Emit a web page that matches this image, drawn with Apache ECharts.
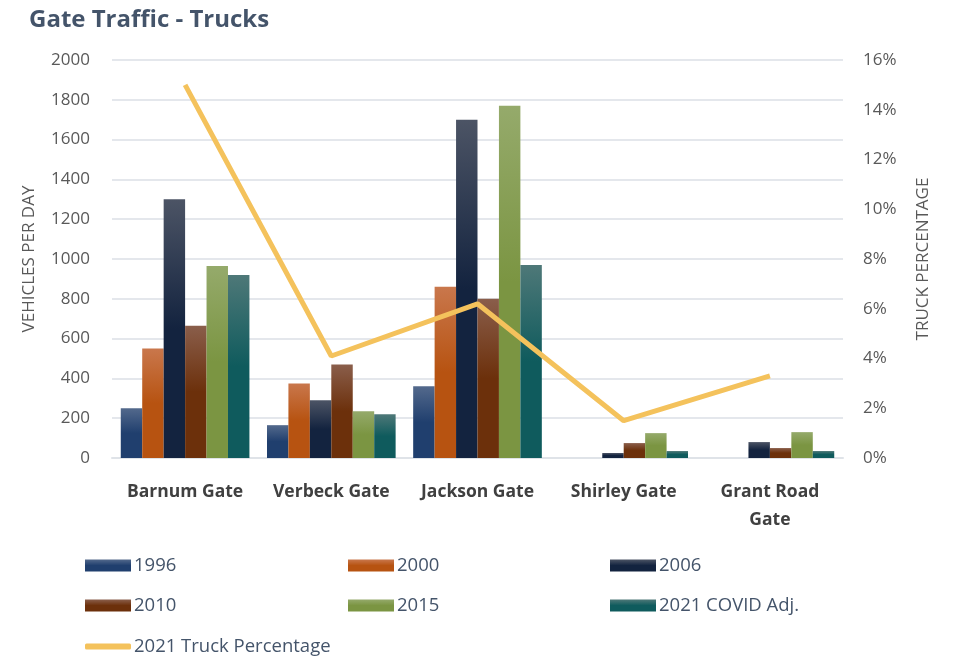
<!DOCTYPE html>
<html lang="en" style="height: 100%">
<head>
  <meta charset="utf-8">
</head>
<body style="height: 100%; margin: 0">
  <div id="container" style="height: 100%"></div>

  <script type="text/javascript" src="https://cdn.jsdelivr.net/npm/echarts@6/dist/echarts.min.js"></script>

  <script type="text/javascript">
    var gates = ['Barnum Gate', 'Verbeck Gate', 'Jackson Gate', 'Shirley Gate', 'Grant Road\nGate'];
    var v1996 = [250, 165, 360, null, null];
    var v2000 = [550, 375, 860, null, null];
    var v2006 = [1300, 290, 1700, 25, 80];
    var v2010 = [665, 470, 800, 75, 50];
    var v2015 = [965, 235, 1770, 125, 130];
    var v2021 = [920, 220, 970, 35, 35];
    var truckPct = [0.15, 0.041, 0.062, 0.015, 0.033];

    var dom = document.getElementById('container');
    var myChart = echarts.init(dom, null, { renderer: 'canvas' });

    var font = '"Open Sans", "Noto Sans", sans-serif';

    // vertical gradient: lighter at top, solid below
    function grad(top, bottom) {
      return new echarts.graphic.LinearGradient(0, 0, 0, 1, [
        { offset: 0, color: top },
        { offset: 0.5, color: bottom },
        { offset: 1, color: bottom }
      ]);
    }

    function bar(name, data, top, bottom) {
      return {
        name: name,
        type: 'bar',
        data: data,
        barGap: '0%',
        barCategoryGap: '12%',
        itemStyle: { color: grad(top, bottom) }
      };
    }

    var legendText = { color: '#44546a', fontSize: 18.5, fontFamily: font, padding: [0, 0, 0, -2] };
    // one legend per entry, laid out in a 3-column grid
    function legendItem(name, left, top, isLine) {
      return {
        left: left,
        top: top,
        itemWidth: 46,
        itemHeight: isLine ? 6 : 12,
        icon: isLine ? 'roundRect' : 'rect',
        selectedMode: false,
        textStyle: legendText,
        data: [name]
      };
    }

    var option = {
      animation: false,
      title: {
        text: 'Gate Traffic - Trucks',
        left: 24,
        top: 3,
        textStyle: { color: '#44546a', fontSize: 24, fontWeight: 'bold', fontFamily: font }
      },
      legend: [
        legendItem('1996', 80, 551),
        legendItem('2000', 343, 551),
        legendItem('2006', 605, 551),
        legendItem('2010', 80, 591),
        legendItem('2015', 343, 591),
        legendItem('2021 COVID Adj.', 605, 591),
        legendItem('2021 Truck Percentage', 80, 632, true)
      ],
      grid: { left: 112, right: 116, top: 60, bottom: 201 },
      xAxis: {
        type: 'category',
        data: gates,
        axisLine: { lineStyle: { color: '#dfe3e8', width: 2 } },
        axisTick: { show: false },
        axisLabel: {
          interval: 0,
          color: '#404040',
          fontSize: 17.5,
          fontWeight: 'bold',
          fontFamily: font,
          margin: 20,
          lineHeight: 28
        }
      },
      yAxis: [
        {
          type: 'value',
          min: 0,
          max: 2000,
          interval: 200,
          name: 'VEHICLES PER DAY',
          nameLocation: 'middle',
          nameGap: 74,
          nameTextStyle: { color: '#595959', fontSize: 17, fontFamily: font },
          axisLabel: {
            color: '#595959',
            fontSize: 17,
            fontFamily: font,
            margin: 22,
            formatter: function (v) { return String(v); }
          },
          splitLine: { lineStyle: { color: '#e4e7ec', width: 2 } },
          axisLine: { show: false },
          axisTick: { show: false }
        },
        {
          type: 'value',
          min: 0,
          max: 0.16,
          interval: 0.02,
          name: 'TRUCK PERCENTAGE',
          nameLocation: 'middle',
          nameGap: 72,
          nameRotate: 90,
          nameTextStyle: { color: '#595959', fontSize: 17, fontFamily: font },
          axisLabel: {
            color: '#595959',
            fontSize: 17,
            fontFamily: font,
            margin: 20,
            formatter: function (v) { return Math.round(v * 100) + '%'; }
          },
          splitLine: { show: false },
          axisLine: { show: false },
          axisTick: { show: false }
        }
      ],
      series: [
        bar('1996', v1996, '#53698c', '#203f6e'),
        bar('2000', v2000, '#c9774c', '#b75311'),
        bar('2006', v2006, '#4c5465', '#13233f'),
        bar('2010', v2010, '#8a5e4b', '#6c300b'),
        bar('2015', v2015, '#95aa6b', '#7b9542'),
        bar('2021 COVID Adj.', v2021, '#4e7878', '#0f5b5d'),
        {
          name: '2021 Truck Percentage',
          type: 'line',
          yAxisIndex: 1,
          data: truckPct,
          symbol: 'none',
          lineStyle: { color: '#f4c25c', width: 5 },
          itemStyle: { color: '#f4c25c' },
          z: 5
        }
      ]
    };

    myChart.setOption(option);
    window.addEventListener('resize', myChart.resize);
  </script>
</body>
</html>
